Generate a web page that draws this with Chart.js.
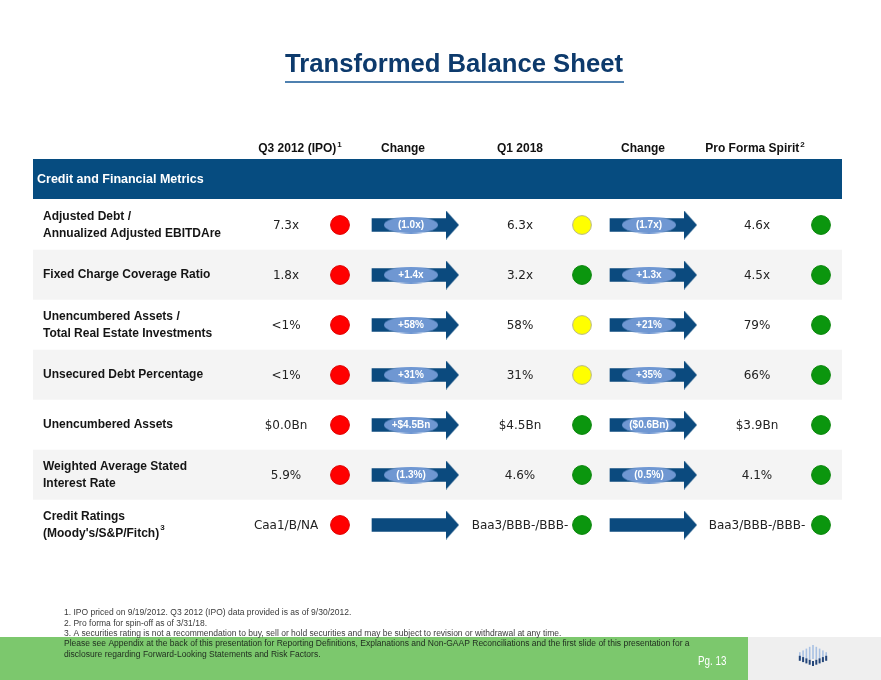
<!DOCTYPE html>
<html>
<head>
<meta charset="utf-8">
<title>Transformed Balance Sheet</title>
<script src="https://cdn.jsdelivr.net/npm/chart.js@4.4.1/dist/chart.umd.min.js"></script>
<style>
  html, body { margin: 0; background: #fff; }
  canvas { display: block; }
</style>
</head>
<body>
<canvas id="sheet" width="881" height="680"></canvas>
<script>
/* ---- Data ---------------------------------------------------------------- */

const rowLabels = [
  ["Adjusted Debt /", "Annualized Adjusted EBITDAre"],
  ["Fixed Charge Coverage Ratio"],
  ["Unencumbered Assets /", "Total Real Estate Investments"],
  ["Unsecured Debt Percentage"],
  ["Unencumbered Assets"],
  ["Weighted Average Stated", "Interest Rate"],
  ["Credit Ratings", "(Moody's/S&P/Fitch)"],
];
const rowLabelNotes = ["", "", "", "", "", "", "3"];

const columnHeaders = ["Q3 2012 (IPO)", "Change", "Q1 2018", "Change", "Pro Forma Spirit"];
const headerNotes = ["1", "", "", "", "2"];

const ipoValues = ["7.3x", "1.8x", "<1%", "<1%", "$0.0Bn", "5.9%", "Caa1/B/NA"];
const ipoStatus = ["red", "red", "red", "red", "red", "red", "red"];
const ipoToQ1Change = ["(1.0x)", "+1.4x", "+58%", "+31%", "+$4.5Bn", "(1.3%)", ""];

const q1Values = ["6.3x", "3.2x", "58%", "31%", "$4.5Bn", "4.6%", "Baa3/BBB-/BBB-"];
const q1Status = ["yellow", "green", "yellow", "yellow", "green", "green", "green"];
const q1ToProFormaChange = ["(1.7x)", "+1.3x", "+21%", "+35%", "($0.6Bn)", "(0.5%)", ""];

const proFormaValues = ["4.6x", "4.5x", "79%", "66%", "$3.9Bn", "4.1%", "Baa3/BBB-/BBB-"];
const proFormaStatus = ["green", "green", "green", "green", "green", "green", "green"];

const sectionTitle = "Credit and Financial Metrics";
const pageTitle = "Transformed Balance Sheet";

const footnotes = [
  "1. IPO priced on 9/19/2012. Q3 2012 (IPO) data provided is as of 9/30/2012.",
  "2. Pro forma for spin-off as of 3/31/18.",
  "3. A securities rating is not a recommendation to buy, sell or hold securities and may be subject to revision or withdrawal at any time.",
];
const disclaimer = [
  "Please see Appendix at the back of this presentation for Reporting Definitions, Explanations and Non-GAAP Reconciliations and the first slide of this presentation for a",
  "disclosure regarding Forward-Looking Statements and Risk Factors.",
];
const pageNumber = "Pg. 13";

/* ---- Layout & theme ------------------------------------------------------ */

const NAVY = "#064c80";
const ARROW = "#0b4a7e";
const PILL = "#6f97d2";
const TITLE = "#0d3a6c";
const STATUS = {
  red: { fill: "#ff0000", border: "#e00000" },
  yellow: { fill: "#ffff00", border: "#b9b98e" },
  green: { fill: "#0b960e", border: "#0a860c" },
};

// horizontal positions of the table columns (x scale units = page pixels)
const COL = {
  left: 33,
  right: 842,
  label: 43,
  ipoValue: 286,
  ipoDot: 340,
  arrow1: 372,
  q1Value: 520,
  q1Dot: 582,
  arrow2: 610,
  proValue: 757,
  proDot: 821,
};
const ARROW_SHAFT = 74;   // shaft length
const ARROW_HEAD_W = 13;
const ARROW_HEAD_H = 29;
const PILL_OFFSET = 39;
const HEADER_X = [300, 403, 520, 643, 755];

const FONT = '"Liberation Sans", Arial, sans-serif';
const VALUE_FONT = '"DejaVu Sans", Verdana, sans-serif';

/* ---- Point-style sprites -------------------------------------------------- */

function arrowHeadSprite() {
  const c = document.createElement("canvas");
  c.width = ARROW_HEAD_W;
  c.height = ARROW_HEAD_H;
  const g = c.getContext("2d");
  g.fillStyle = ARROW;
  g.beginPath();
  g.moveTo(0, 0);
  g.lineTo(ARROW_HEAD_W, ARROW_HEAD_H / 2);
  g.lineTo(0, ARROW_HEAD_H);
  g.closePath();
  g.fill();
  return c;
}

function pillSprite() {
  const c = document.createElement("canvas");
  c.width = 54;
  c.height = 17;
  const g = c.getContext("2d");
  g.fillStyle = PILL;
  g.beginPath();
  g.ellipse(27, 8.5, 27, 8.5, 0, 0, Math.PI * 2);
  g.fill();
  return c;
}

/* ---- Datasets ------------------------------------------------------------ */

const rowKeys = rowLabels.map((l) => l.join(" "));
const headImg = arrowHeadSprite();
const pillImg = pillSprite();

const arrowStarts = [COL.arrow1, COL.arrow2];
const changeCols = [ipoToQ1Change, q1ToProFormaChange];

const shaftData = [];
const headData = [];
const pillData = [];
arrowStarts.forEach((x0, c) => {
  rowKeys.forEach((k, i) => {
    shaftData.push({ y: k, x: [x0, x0 + ARROW_SHAFT] });
    headData.push({ y: k, x: x0 + ARROW_SHAFT + ARROW_HEAD_W / 2 });
    if (changeCols[c][i]) pillData.push({ y: k, x: x0 + PILL_OFFSET, text: changeCols[c][i] });
  });
});

function dotDataset(col, status) {
  return {
    type: "scatter",
    data: rowKeys.map((k) => ({ x: col, y: k })),
    pointStyle: "circle",
    pointRadius: 9.4,
    backgroundColor: status.map((s) => STATUS[s].fill),
    borderColor: status.map((s) => STATUS[s].border),
    borderWidth: 1,
    order: 1,
  };
}

/* ---- Text & decoration plugin --------------------------------------------- */

function textWithNote(ctx, text, note, x, y, align, font, noteFont) {
  ctx.font = font;
  const w = ctx.measureText(text).width;
  ctx.font = noteFont;
  const nw = note ? ctx.measureText(note).width + 1 : 0;
  let left = x;
  if (align === "center") left = x - (w + nw) / 2;
  ctx.textAlign = "left";
  ctx.font = font;
  ctx.fillText(text, left, y);
  if (note) {
    ctx.font = noteFont;
    ctx.fillText(note, left + w + 1, y - 5);
  }
}

function condensed(ctx, text, x, y, squeeze) {
  ctx.fillText(text, x, y, ctx.measureText(text).width * squeeze);
}

const slidePlugin = {
  id: "slide",
  beforeDraw(chart) {
    const ctx = chart.ctx;
    const x = chart.scales.x;
    const left = x.getPixelForValue(COL.left);
    const right = x.getPixelForValue(COL.right);
    ctx.save();
    // section band
    ctx.fillStyle = NAVY;
    ctx.fillRect(left, 159, right - left, 40);
    // footer
    ctx.fillStyle = "#7cc86d";
    ctx.fillRect(0, 637, 748, 43);
    ctx.fillStyle = "#efefef";
    ctx.fillRect(748, 637, chart.width - 748, 43);
    ctx.restore();
  },
  afterDatasetsDraw(chart) {
    const ctx = chart.ctx;
    const x = chart.scales.x;
    const y = chart.scales.y;
    ctx.save();
    ctx.textBaseline = "alphabetic";

    // title
    ctx.fillStyle = TITLE;
    ctx.font = "bold 26px " + FONT;
    ctx.textAlign = "center";
    ctx.fillText(pageTitle, 454, 72, 338);
    ctx.fillStyle = "#4f81b0";
    ctx.fillRect(285, 81, 339, 2);

    // column headers
    ctx.fillStyle = "#111";
    columnHeaders.forEach((h, i) => {
      textWithNote(ctx, h, headerNotes[i], HEADER_X[i], 152, "center",
        "bold 12px " + FONT, "bold 8px " + FONT);
    });

    // section title
    ctx.fillStyle = "#fff";
    ctx.font = "bold 12.5px " + FONT;
    ctx.textAlign = "left";
    ctx.textBaseline = "middle";
    ctx.fillText(sectionTitle, 37, 180);

    // row labels
    ctx.fillStyle = "#151515";
    rowKeys.forEach((k, i) => {
      const cy = y.getPixelForValue(i);
      const lines = rowLabels[i];
      lines.forEach((line, j) => {
        const ly = cy + (j - (lines.length - 1) / 2) * 16.5;
        const note = j === lines.length - 1 ? rowLabelNotes[i] : "";
        textWithNote(ctx, line, note, x.getPixelForValue(COL.label), ly, "left",
          "bold 12px " + FONT, "bold 8px " + FONT);
      });
    });

    // values
    ctx.fillStyle = "#222";
    ctx.font = "12px " + VALUE_FONT;
    ctx.textAlign = "center";
    const valueCols = [
      [COL.ipoValue, ipoValues],
      [COL.q1Value, q1Values],
      [COL.proValue, proFormaValues],
    ];
    valueCols.forEach(([col, vals]) => {
      vals.forEach((v, i) => {
        ctx.fillText(v, x.getPixelForValue(col), y.getPixelForValue(i) + 1);
      });
    });

    // change labels on the arrows
    ctx.fillStyle = "#fff";
    ctx.font = "bold 10px " + FONT;
    pillData.forEach((p) => {
      ctx.fillText(p.text, x.getPixelForValue(p.x), y.getPixelForValue(rowKeys.indexOf(p.y)) + 0.5);
    });

    // footnotes
    ctx.textAlign = "left";
    ctx.fillStyle = "#3a3a3a";
    ctx.font = "8.5px " + FONT;
    footnotes.forEach((f, i) => condensed(ctx, f, 64, 613 + i * 10.3, 1));

    // disclaimer
    ctx.fillStyle = "#1e2a1e";
    disclaimer.forEach((d, i) => condensed(ctx, d, 64, 644 + i * 11, 1));

    // page number
    ctx.fillStyle = "#fff";
    ctx.font = "12px " + FONT;
    condensed(ctx, pageNumber, 698, 662, 0.82);

    // logo
    for (let i = -4; i <= 4; i++) {
      const lx = 813 + i * 3.3;
      const a = Math.abs(i);
      ctx.fillStyle = "#a9c1e3";
      ctx.fillRect(lx - 0.8, 645 + a * 1.8, 1.6, 14 - a * 1.6);
      ctx.fillStyle = "#24467a";
      ctx.fillRect(lx - 1, 657 + (4 - a) * 1.0 - a * 0.3, 2, 5);
    }
    ctx.restore();
  },
};

/* ---- Chart ----------------------------------------------------------------- */

new Chart(document.getElementById("sheet"), {
  type: "scatter",
  data: {
    labels: rowKeys,
    datasets: [
      {
        type: "bar",
        indexAxis: "y",
        data: rowKeys.map((k) => ({ y: k, x: [COL.left, COL.right] })),
        backgroundColor: rowKeys.map((_, i) => (i % 2 ? "#f4f4f4" : "#ffffff")),
        barPercentage: 1,
        categoryPercentage: 1,
        grouped: false,
        order: 10,
      },
      {
        type: "bar",
        indexAxis: "y",
        data: shaftData,
        backgroundColor: ARROW,
        barThickness: 13,
        grouped: false,
        order: 9,
      },
      {
        type: "scatter",
        data: headData,
        pointStyle: headImg,
        pointRadius: 3,
        order: 8,
      },
      {
        type: "scatter",
        data: pillData,
        pointStyle: pillImg,
        pointRadius: 3,
        order: 7,
      },
      dotDataset(COL.ipoDot, ipoStatus),
      dotDataset(COL.q1Dot, q1Status),
      dotDataset(COL.proDot, proFormaStatus),
    ],
  },
  options: {
    responsive: false,
    animation: false,
    events: [],
    layout: { padding: { top: 200, bottom: 130, left: 33, right: 39 } },
    plugins: { legend: { display: false }, tooltip: { enabled: false } },
    scales: {
      x: { type: "linear", min: COL.left, max: COL.right, display: false },
      y: { type: "category", labels: rowKeys, offset: true, display: false },
    },
  },
  plugins: [slidePlugin],
});
</script>
</body>
</html>
